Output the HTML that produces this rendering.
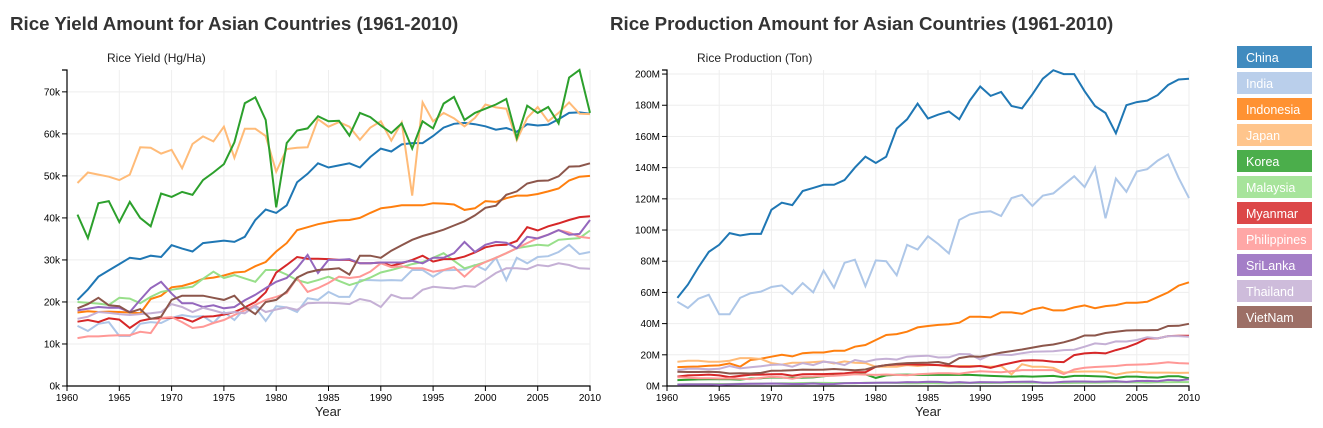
<!DOCTYPE html>
<html><head><meta charset="utf-8">
<style>
body{margin:0;background:#fff;width:1323px;height:423px;overflow:hidden;font-family:"Liberation Sans",Arial,sans-serif}
svg text{font-family:"Liberation Sans",Arial,sans-serif}
</style></head>
<body>
<svg id="chart" width="1323" height="423" xmlns="http://www.w3.org/2000/svg">
<text x="10" y="30" font-size="18.7" font-weight="bold" fill="#333">Rice Yield Amount for Asian Countries (1961-2010)</text>
<text x="610" y="30" font-size="18.7" font-weight="bold" fill="#333">Rice Production Amount for Asian Countries (1961-2010)</text>
<text x="107" y="62" font-size="12" fill="#222">Rice Yield (Hg/Ha)</text>
<text x="697" y="62" font-size="12" fill="#222">Rice Production (Ton)</text>
<text x="328" y="416" font-size="13" text-anchor="middle" fill="#222">Year</text>
<text x="928" y="416" font-size="13" text-anchor="middle" fill="#222">Year</text>
<g id="left"></g>
<g id="right"></g>
<g id="legend"></g>
</svg>
<script>
const countries=["China","India","Indonesia","Japan","Korea","Malaysia","Myanmar","Philippines","SriLanka","Thailand","VietNam"];
const colors=["#1f77b4","#aec7e8","#ff7f0e","#ffbb78","#2ca02c","#98df8a","#d62728","#ff9896","#9467bd","#c5b0d5","#8c564b"];
const yearStart=1961;
const yieldTicks=[0,10,20,30,40,50,60,70];
const prodTicks=[0,20,40,60,80,100,120,140,160,180,200];
const xTicks=[1960,1965,1970,1975,1980,1985,1990,1995,2000,2005,2010];
// Yield (thousand Hg/Ha)
const yieldChina=[20.5,23,26,27.5,29,30.5,30.2,31,30.7,33.5,32.7,32,34,34.3,34.6,34.3,35.5,39.5,42,41.2,43,48.5,50.5,53,52,52.5,53,52,54.5,56.5,55.8,57.5,57.8,57.8,59.5,61.5,62.4,62.6,62.3,61.8,61,61.4,60.5,62.3,62,62.2,63.5,65,65.1,64.8];
const yieldIndia=[14.3,13.1,14.8,15.2,11.9,11.9,14.8,15.2,15,16.2,16.9,16.5,16.6,15,17.6,15.7,18.5,18.7,15.5,19,18.7,17.6,20.9,20.5,22.4,21.2,21.2,25.2,25.2,25.1,25.2,25.1,27.6,27.6,26,27.5,27.6,27.7,28.8,27.6,30.5,25.2,30.5,29.2,30.7,30.9,31.9,33.6,31.4,31.9];
const yieldIndonesia=[17.5,17.8,17.6,17.7,17.6,17.5,17.3,20.7,21.5,23.5,23.8,24.5,25.5,25.8,26.3,27,27.2,28.5,29.5,32,34,37.1,37.8,38.5,39,39.4,39.5,40,41.2,42.3,42.6,43,43,43,43.5,43.4,43.2,41.9,42.3,44,43.8,44.7,45.3,45.3,45.7,46.3,47,48.9,49.8,50];
const yieldJapan=[48.3,50.8,50.3,49.8,49,50.3,56.8,56.7,55.3,56.2,51.8,57.6,59.4,58.2,61.7,54.3,61.2,61.2,59.5,51,56.4,56.7,56.8,63.5,61.7,62.8,61.7,58.6,61.5,63,58.4,62.7,45.3,67.5,63,65,63.7,61.8,63.8,67,66.3,66,58.5,63.8,66.4,63,65,67.5,64.8,64.7];
const yieldKorea=[40.8,35.2,43.5,44,39,43.8,40,38,45.8,45,46.2,45.5,49,50.8,52.8,58,67.3,68.7,63.3,42.5,57.8,60.8,61.3,64.2,63,63.1,59.6,65,64,62,60.2,62.5,56.5,63,61.3,67.2,68.8,63.3,65,66,67,68.3,59,66.7,65,66.4,62.5,73.4,75.2,65];
const yieldMalaysia=[20,19.8,19.6,19.3,21,20.8,19.7,21.2,22.4,22.9,23.3,23.6,25.5,27.2,25.7,26.4,25.6,24.8,27.6,27.6,26.5,25.2,24.5,25.2,26,25,24,24.8,25.8,27,27.6,28.3,29,29.5,30.5,31.6,29.8,28,28.7,29.5,30.5,31.6,32.8,33.2,33.6,33.4,34.8,35,35.2,37];
const yieldMyanmar=[15.3,15.7,15.2,16.1,15.8,13.8,15.5,16,16.1,16.2,16.2,15.3,16.5,16.6,17,17.6,18.7,20,22.3,27,28.8,30.7,30.3,30.3,30.2,30,30,29.2,29.2,29.4,28.6,29.2,30,31,29.6,30.2,30.2,30.8,31.8,33,33.5,33.6,34.5,37.8,37,38,38.7,39.5,40.2,40.4];
const yieldPhilippines=[11.4,11.8,11.8,12,12.1,12.1,12.9,12.6,16.2,16.4,15.2,13.8,14.1,15,15.7,16.9,18,19.3,20.5,21.2,22.1,25.7,22.4,23.3,24.5,26,25.7,26,27.2,29.2,28.3,28.5,28,28,27.2,27.6,28.3,26,28.3,29.5,30.5,31.6,32.8,34,35.2,36,37.1,36.5,35.5,35.2];
const yieldSriLanka=[18,18.4,18.8,18.6,18.6,17.6,20.5,23.3,24.8,22,19.7,19.7,18.8,19.2,18.5,18.8,20.4,21.7,23.3,24.8,25.7,28.1,31.2,26.9,30,30,30.2,29.2,29.2,29.4,29.4,29.4,29.8,29.2,30.5,30.5,31.6,34.3,31.9,33.6,34.3,34.1,32.8,35.5,35.1,36,37.1,36,36.2,39.5];
const yieldThailand=[16,16.5,17.6,17.4,17.1,16.9,17.1,17.3,17.6,19.5,18.8,17.6,18.6,18,17.3,17.6,17.3,19.1,17.6,18.2,18.7,18.1,19.7,19.8,19.8,19.7,19.5,20.7,20.2,18.8,21.7,20.9,20.9,22.9,23.6,23.4,23.2,23.8,23.6,25.2,26.9,28,28,27.8,28.8,28.5,29.2,28.8,28,27.9];
const yieldVietNam=[18.5,19.5,21,19.2,19,17.5,18.3,16,16.5,20.5,21.5,21.5,21.5,21,20.5,21.5,18.8,17.1,20,20.5,22.5,25.8,27,27.6,27.8,28,26.5,31,31,30.5,32.2,33.5,34.8,35.7,36.4,37.2,38.2,39.2,40.6,42.4,42.9,45.5,46.3,48.2,48.8,48.9,49.9,52.2,52.3,53];
// Production (million tons)
const prodChina=[56.5,65,76,86,90.5,98,96.5,97.5,97.5,113,117.5,116,125,127,129,129,132,140,147,143,147,165,171,181,171.5,174,176,171,183,192,186,188.5,179.5,178,187,197,202.5,200,200,189,179.5,175,162,180,182,183,186.5,193,196.5,197];
const prodIndia=[54,50,56,58.5,46,46,56.5,59.5,60.5,63.5,64.5,59,66,60,74,63,79,81,64,80.5,80,71,90.5,87.5,96,91,85,106.5,110,111.5,112,109,120.5,122.5,115.5,122,123.5,129,134.5,127.5,140,107.5,133,124.5,137.5,139,144.5,148.5,133.5,120.5];
const prodIndonesia=[12.1,12.3,12.5,13,13.2,14.5,12.4,16.7,17.5,18.8,20,19,21,21.5,21.5,22.6,22.6,25.2,26.3,29.5,32.7,33.3,34.8,37.6,38.5,39.2,39.6,40.6,44.4,44.4,44,47.2,47.2,46.2,49.1,50.4,48.5,48.5,50.4,51.7,49.9,51.2,51.9,53.4,53.4,54,57,60,64.4,66.5];
const prodJapan=[15.6,16.2,16.2,15.6,15.6,16.2,17.9,17.9,17.3,14.7,13.7,14.9,14.9,15.3,15.8,14.4,15.8,14.9,14.7,12.4,12.4,12.4,13.4,12.8,13.4,13.4,12.4,12.8,12.8,12.8,12.4,12.8,7.5,14,12.4,12.4,11.7,8.6,9.1,9.3,9.3,9.1,7.3,8.6,9.1,8.6,8.6,8.6,8.4,8.5];
const prodKorea=[3.8,4,4.2,4.3,4.3,4.3,4.1,4.8,5,5.5,5.4,5.2,5.4,5.5,6.2,7,7.5,8,7.5,5.2,6.8,7.2,7.3,7.1,7.1,7.1,7.1,7.1,7.1,6.8,6.5,6.3,6,6.2,6,6.2,6.5,5.6,6.5,6.5,6.3,6,5.1,6,6,5.6,5.4,6.2,6.2,5];
const prodMalaysia=[1,1.1,1.1,1.2,1.3,1.3,1.4,1.5,1.6,1.6,1.8,1.8,1.9,2,2,1.9,1.9,1.8,2.1,2,2,1.9,1.8,1.7,1.9,1.8,1.7,1.8,1.9,1.9,1.9,2,2.1,2.1,2.1,2.2,2.1,1.9,2,2.1,2.1,2.2,2.3,2.3,2.3,2.2,2.4,2.4,2.5,2.5];
const prodMyanmar=[6,6.8,7,7.3,6.8,5.7,6.5,7.2,7.3,7.5,7.6,6.6,7.5,7.6,7.6,7.9,8.1,8.8,8.8,12.4,13.4,13.8,14,13.7,13.6,13.4,13,12.4,12.4,12.8,11.7,13.4,14.8,16.3,16.5,16.3,15.5,15.3,19.8,20.9,21.3,20.9,23,24.8,27.3,30.5,30.5,32,32.2,32.2];
const prodPhilippines=[5.6,5.4,5,5,4.8,4.9,4.7,4.4,5.2,5.9,5.6,4.7,5.9,6,6.4,6.6,7,7.5,7.3,7.1,7.4,7.1,6.9,7.5,7.9,8.2,8.2,7.9,8.8,9.4,9.2,8.8,9.4,10.2,10.2,10.2,10.2,7.7,10.6,11.7,12.2,12.5,12.8,13.5,13.7,14,14.5,15.2,14.7,14.4];
const prodSriLanka=[0.9,1,1,1,0.8,1,1.3,1.4,1.4,1.6,1.4,1.3,1.3,1.6,1.2,1.3,1.7,1.9,1.9,2.1,2.2,2.2,2.5,2.4,2.7,2.6,2.1,2.5,2.1,2.5,2.4,2.3,2.6,2.7,2.8,2.1,2.2,2.7,2.9,2.9,2.7,2.9,3.1,2.6,3.2,3.3,3.1,3.9,3.6,4.3];
const prodThailand=[10.2,11.1,11,10.8,11,12.8,11.3,12,12.6,13.5,13.8,12.4,14.7,13.4,15.6,15,13.4,16.7,15.5,17,17.5,16.9,18.8,19.2,19.4,18.3,18.4,20.5,20.3,17,20,20,19.9,21,22,22.1,22.3,23,23.3,25.2,27.3,26.8,28.6,28.5,29.5,31.2,30.5,32,32,31.6];
const prodVietNam=[9.2,9,9,9.1,8.9,8,8.2,8,8.4,9.8,9.9,10.1,10.5,10.4,10.5,10.9,10.5,10.1,10.6,12.4,13.4,14.2,14.7,14.8,15,15.4,14,17.9,19,18.8,20,21.4,22.4,23.4,24.6,25.8,26.6,28,29.9,32.4,32.4,34,34.8,35.6,35.8,35.8,35.9,38.5,38.6,39.9];

const yieldSeries=[yieldChina,yieldIndia,yieldIndonesia,yieldJapan,yieldKorea,yieldMalaysia,yieldMyanmar,yieldPhilippines,yieldSriLanka,yieldThailand,yieldVietNam];
const prodSeries=[prodChina,prodIndia,prodIndonesia,prodJapan,prodKorea,prodMalaysia,prodMyanmar,prodPhilippines,prodSriLanka,prodThailand,prodVietNam];

const NS="http://www.w3.org/2000/svg";
function mk(tag,attrs,parent){const e=document.createElementNS(NS,tag);for(const k in attrs)e.setAttribute(k,attrs[k]);parent.appendChild(e);return e;}

function drawChart(g,series,ticks,fmt,x0,x1,yTop,y0,maxV,prefix){
  const xs=y=>x0+(y-1960)/50*(x1-x0);
  const ys=v=>y0-v/maxV*(y0-yTop);
  xTicks.forEach(t=>{
    const l=mk('line',{x1:xs(t),x2:xs(t),y1:yTop,y2:y0,stroke:'#eee','stroke-width':1},g);
    
    
    mk('line',{x1:xs(t),x2:xs(t),y1:y0,y2:y0+5,stroke:'#000'},g);
    const tx=mk('text',{x:xs(t),y:y0+15,'font-size':10,'text-anchor':'middle',fill:'#000'},g);
    tx.textContent=t;
    
    
  });
  ticks.forEach(t=>{
    const l=mk('line',{x1:x0,x2:x1,y1:ys(t),y2:ys(t),stroke:'#eee','stroke-width':1},g);
    
    
    mk('line',{x1:x0-5,x2:x0,y1:ys(t),y2:ys(t),stroke:'#000'},g);
    const tx=mk('text',{x:x0-7,y:ys(t)+3.5,'font-size':10,'text-anchor':'end',fill:'#000'},g);
    tx.textContent=fmt(t);
    
    
  });
  const ax=mk('path',{d:`M${x0-5},${yTop}H${x0}V${y0}H${x1}V${y0+5}`,fill:'none',stroke:'#000','stroke-width':1.2},g);
  
  
  series.forEach((s,i)=>{
    const d=s.map((v,j)=>(j?'L':'M')+xs(yearStart+j).toFixed(1)+','+ys(v).toFixed(1)).join('');
    const p=mk('path',{d:d,fill:'none',stroke:colors[i],'stroke-width':2},g);
    
    
  });
}
drawChart(document.getElementById('left'),yieldSeries,yieldTicks,t=>t+'k',67,590,70,386,75.2,'yield');
drawChart(document.getElementById('right'),prodSeries,prodTicks,t=>t+'M',667,1189,70,386,202.6,'production');

const lg=document.getElementById('legend');
countries.forEach((c,i)=>{
  const r=mk('rect',{x:1237,y:46+i*26,width:75,height:22,fill:colors[i],opacity:0.85},lg);
  
  
  const t=mk('text',{x:1246,y:62+i*26,'font-size':12.5,fill:'#fff'},lg);
  t.textContent=c;
  
  
});
</script>
</body></html>
